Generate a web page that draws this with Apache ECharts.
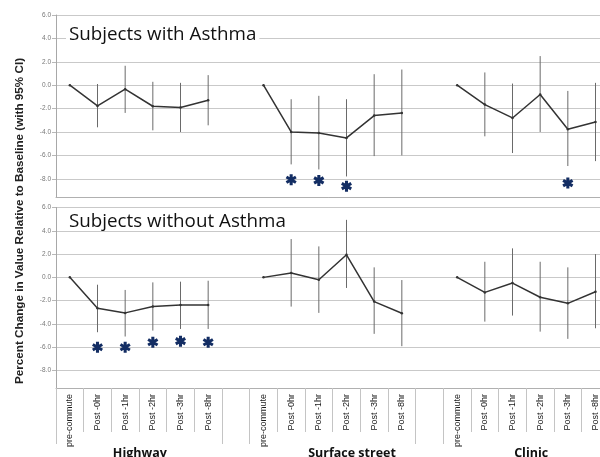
<!DOCTYPE html>
<html>
<head>
<meta charset="utf-8">
<script src="https://cdn.jsdelivr.net/npm/echarts@6/dist/echarts.min.js"></script>
<style>
  html, body { margin: 0; padding: 0; background: #fff; }
  #chart { width: 600px; height: 457px; }
</style>
</head>
<body>
<div id="chart"></div>
<script>
// categories (each group: 6 time points + one empty spacer)
const categories = [
  'pre-commute', 'Post -0hr', 'Post -1hr', 'Post -2hr', 'Post -3hr', 'Post -8hr', '',
  'pre-commute', 'Post -0hr', 'Post -1hr', 'Post -2hr', 'Post -3hr', 'Post -8hr', '',
  'pre-commute', 'Post -0hr', 'Post -1hr', 'Post -2hr', 'Post -3hr', 'Post -8hr', ''
];
const groupLabels = [
  '', '', '', 'Highway', '', '', '',
  '', '', '', 'Surface street', '', '', '',
  '', '', '', 'Clinic', '', '', ''
];
// group borders (category index where a long separator is drawn)
const groupBorders = [0, 6, 7, 13, 14, 20];

// Subjects with Asthma
const asthmaMean = [0, -1.77, -0.34, -1.8, -1.91, -1.29, null,
                    0, -4.0, -4.09, -4.51, -2.6, -2.37, null,
                    0, -1.66, -2.8, -0.8, -3.77, -3.14, null];
const asthmaHigh = [null, 0.1, 1.66, 0.29, 0.2, 0.86, null,
                    null, -1.2, -0.91, -1.2, 0.94, 1.34, null,
                    null, 1.09, 0.14, 2.49, -0.49, 0.2, null];
const asthmaLow = [null, -3.6, -2.37, -3.86, -4.0, -3.43, null,
                   null, -6.77, -7.2, -7.8, -6.06, -6.0, null,
                   null, -4.37, -5.8, -4.0, -6.91, -6.49, null];
const asthmaStars = [[8, -8.08], [9, -8.14], [10, -8.63], [18, -8.37]];

// Subjects without Asthma
const noAsthmaMean = [0, -2.66, -3.05, -2.51, -2.37, -2.37, null,
                      0, 0.37, -0.2, 1.94, -2.08, -3.08, null,
                      0, -1.29, -0.49, -1.71, -2.23, -1.23, null];
const noAsthmaHigh = [null, -0.63, -1.08, -0.43, -0.37, -0.29, null,
                      null, 3.29, 2.66, 4.94, 0.86, -0.23, null,
                      null, 1.34, 2.49, 1.34, 0.86, 2.0, null];
const noAsthmaLow = [null, -4.71, -5.08, -4.57, -4.43, -4.43, null,
                     null, -2.51, -3.05, -0.91, -4.85, -5.91, null,
                     null, -3.8, -3.28, -4.66, -5.28, -4.37, null];
const noAsthmaStars = [[1, -6.0], [2, -6.0], [3, -5.57], [4, -5.48], [5, -5.57]];

const yTitle = 'Percent Change in Value Relative to Baseline (with 95% CI)';

// six-spoke asterisk
const starPath = 'path://M-0.28,-1L0.28,-1L0.28,1L-0.28,1Z' +
  'M0.726,-0.7425L1.006,-0.2575L-0.726,0.7425L-1.006,0.2575Z' +
  'M-1.006,-0.2575L-0.726,-0.7425L1.006,0.2575L0.726,0.7425Z';

function ciData(low, high) {
  const out = [];
  low.forEach(function (v, i) {
    if (v != null && high[i] != null) out.push([i, v, high[i]]);
  });
  return out;
}

function renderBar(params, api) {
  const p1 = api.coord([api.value(0), api.value(1)]);
  const p2 = api.coord([api.value(0), api.value(2)]);
  return {
    type: 'line',
    shape: { x1: p1[0], y1: p1[1], x2: p2[0], y2: p2[1] },
    style: { stroke: '#6a6a6a', lineWidth: 1 }
  };
}

function yLabel(v) {
  if (Math.abs(v / 2 - Math.round(v / 2)) > 1e-6) return '';
  return v.toFixed(1);
}

const yAxisBase = {
  type: 'value',
  max: 6,
  splitNumber: 8,
  axisLine: { show: true, lineStyle: { color: '#a8a8a8' } },
  axisTick: { show: true, length: 4, lineStyle: { color: '#b8b8b8' } },
  axisLabel: { formatter: yLabel, fontSize: 6.5, color: '#777', margin: 5, fontFamily: 'Liberation Sans', showMinLabel: false },
  splitLine: { lineStyle: { color: '#c9c9c9', width: 1.2 } }
};

const groupText = { fontSize: 12.5, fontWeight: 'bold', fontFamily: 'Open Sans', color: '#111' };

const chart = echarts.init(document.getElementById('chart'));
chart.setOption({
  animation: false,
  backgroundColor: '#fff',
  title: [
    {
      text: 'Subjects with Asthma', left: 66, top: 25, padding: [0, 3],
      backgroundColor: '#fff',
      textStyle: { fontSize: 18.8, fontWeight: 'normal', fontFamily: 'Open Sans', color: '#111' }
    },
    {
      text: 'Subjects without Asthma', left: 66, top: 212, padding: [0, 3],
      backgroundColor: '#fff',
      textStyle: { fontSize: 18.8, fontWeight: 'normal', fontFamily: 'Open Sans', color: '#111' }
    }
  ],
  graphic: [{
    type: 'text',
    x: 20, y: 221,
    rotation: Math.PI / 2,
    style: {
      text: yTitle,
      fontSize: 11.7,
      fontWeight: 'bold',
      fontFamily: 'Liberation Sans',
      fill: '#222',
      align: 'center',
      verticalAlign: 'middle'
    }
  }],
  grid: [
    { left: 56, top: 15, width: 581, height: 182.5, containLabel: false, outerBoundsMode: 'none' },
    { left: 56, top: 207.5, width: 581, height: 180.5, containLabel: false, outerBoundsMode: 'none' }
  ],
  xAxis: [
    {
      type: 'category', gridIndex: 0, data: categories,
      axisLine: { show: true, onZero: false, lineStyle: { color: '#b0b0b0' } },
      axisTick: { show: false }, axisLabel: { show: false }
    },
    {
      type: 'category', gridIndex: 1, data: categories, position: 'bottom',
      axisLine: { show: true, onZero: false, lineStyle: { color: '#b0b0b0' } },
      axisTick: { show: true, interval: 0, length: 44, lineStyle: { color: '#c4c4c4' } },
      axisLabel: {
        interval: 0, rotate: 90, fontSize: 9, margin: 6, color: '#1a1a1a',
        fontFamily: 'Liberation Sans'
      }
    },
    {
      type: 'category', gridIndex: 1, data: groupLabels, position: 'bottom',
      axisLine: { show: false, onZero: false },
      axisTick: {
        show: true, length: 56, lineStyle: { color: '#c4c4c4' },
        interval: function (index) { return groupBorders.indexOf(index) >= 0; }
      },
      axisLabel: {
        interval: 0, margin: 59, fontSize: 12.5, fontWeight: 'bold', color: '#111',
        fontFamily: 'Open Sans',
        formatter: function (v) {
          if (!v) return '';
          const key = v === 'Highway' ? 'h' : (v === 'Clinic' ? 'c' : 's');
          return '{' + key + '|' + v + '}';
        },
        rich: {
          h: Object.assign({ padding: [0, 26, 0, 0] }, groupText),
          s: Object.assign({ padding: [0, 0, 0, 11] }, groupText),
          c: Object.assign({ padding: [0, 18, 0, 0] }, groupText)
        }
      }
    }
  ],
  yAxis: [
    Object.assign({}, yAxisBase, { gridIndex: 0, min: -9.6 }),
    Object.assign({}, yAxisBase, { gridIndex: 1, min: -9.5 })
  ],
  series: [
    {
      type: 'custom', xAxisIndex: 0, yAxisIndex: 0, z: 1,
      renderItem: renderBar, encode: { x: 0, y: [1, 2] },
      data: ciData(asthmaLow, asthmaHigh)
    },
    {
      type: 'line', xAxisIndex: 0, yAxisIndex: 0, data: asthmaMean,
      connectNulls: false, symbol: 'circle', symbolSize: 2.5,
      lineStyle: { color: '#333', width: 1.5 }, itemStyle: { color: '#333' }
    },
    {
      type: 'scatter', xAxisIndex: 0, yAxisIndex: 0, data: asthmaStars,
      symbol: starPath, symbolSize: 11, itemStyle: { color: '#132d63', opacity: 1 }
    },
    {
      type: 'custom', xAxisIndex: 1, yAxisIndex: 1, z: 1,
      renderItem: renderBar, encode: { x: 0, y: [1, 2] },
      data: ciData(noAsthmaLow, noAsthmaHigh)
    },
    {
      type: 'line', xAxisIndex: 1, yAxisIndex: 1, data: noAsthmaMean,
      connectNulls: false, symbol: 'circle', symbolSize: 2.5,
      lineStyle: { color: '#333', width: 1.5 }, itemStyle: { color: '#333' }
    },
    {
      type: 'scatter', xAxisIndex: 1, yAxisIndex: 1, data: noAsthmaStars,
      symbol: starPath, symbolSize: 11, itemStyle: { color: '#132d63', opacity: 1 }
    }
  ]
});
</script>
</body>
</html>
